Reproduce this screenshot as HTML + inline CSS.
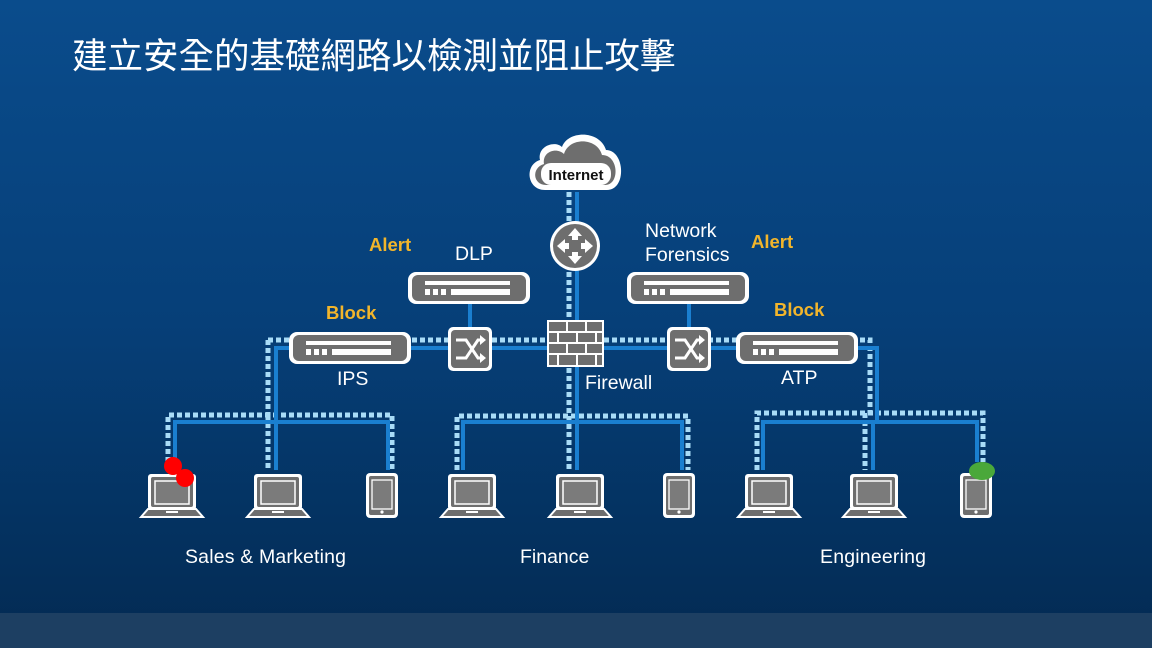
<!DOCTYPE html>
<html><head><meta charset="utf-8"><style>
html,body{margin:0;padding:0;width:1152px;height:648px;overflow:hidden}
svg{display:block}
text{font-family:"Liberation Sans","Noto Sans CJK TC",sans-serif}
</style></head><body>
<svg width="1152" height="648" viewBox="0 0 1152 648" xmlns="http://www.w3.org/2000/svg">
<defs>
<linearGradient id="bg" x1="0" y1="0" x2="0" y2="1">
<stop offset="0" stop-color="#0a4c8c"/><stop offset="0.5" stop-color="#063f78"/><stop offset="1" stop-color="#032a52"/>
</linearGradient>
<g id="laptop">
<rect x="-24" y="-22" width="48" height="36" rx="3" fill="#fff"/>
<rect x="-21" y="-19" width="42" height="30" rx="2" fill="#6e6e6e"/>
<rect x="-17" y="-15" width="34" height="23" fill="#7b7b7b" stroke="#fff" stroke-width="1.5"/>
<path d="M-31 21 L-24 13 L24 13 L31 21 Z" fill="#6e6e6e" stroke="#fff" stroke-width="2"/>
<rect x="-6" y="15" width="12" height="2" fill="#fff"/>
</g>
<g id="tablet">
<rect x="-16" y="-22" width="32" height="45" rx="4" fill="#fff"/>
<rect x="-13" y="-19" width="26" height="39" rx="2" fill="#6e6e6e"/>
<rect x="-10" y="-15" width="20" height="29" fill="#7b7b7b" stroke="#fff" stroke-width="1.3"/>
<circle cx="0" cy="17" r="1.6" fill="#fff"/>
</g>
<g id="app">
<rect x="-61" y="-16" width="122" height="32" rx="8" fill="#fff"/>
<rect x="-57" y="-13" width="114" height="26" rx="6" fill="#6e6e6e"/>
<rect x="-44" y="-7" width="85" height="4" fill="#fff"/>
<rect x="-44" y="1" width="5" height="6" fill="#fff"/>
<rect x="-36" y="1" width="5" height="6" fill="#fff"/>
<rect x="-28" y="1" width="5" height="6" fill="#fff"/>
<rect x="-18" y="1" width="59" height="6" fill="#fff"/>
</g>
<g id="sw">
<rect x="-22" y="-22" width="44" height="44" rx="5" fill="#fff"/>
<rect x="-19" y="-19" width="38" height="38" rx="4" fill="#6e6e6e"/>
<path d="M-14 -9 L-4 -9 L8 9 L12 9 M-14 9 L-4 9 L8 -9 L12 -9" stroke="#fff" stroke-width="3" fill="none"/>
<path d="M10 -14 L16 -9 L10 -4 Z M10 4 L16 9 L10 14 Z" fill="#fff"/>
</g>
</defs>
<rect width="1152" height="648" fill="url(#bg)"/>
<rect y="613" width="1152" height="35" fill="#1d3f62"/>
<text x="72" y="68" font-size="35.5" fill="#fff">建立安全的基礎網路以檢測並阻止攻擊</text>

<g fill="none">
<g stroke="#a9dcf7" stroke-width="5" stroke-dasharray="5 3">
<path d="M569 192 V470"/>
<path d="M268 340 H870 V413"/>
<path d="M268 340 V415"/>
<path d="M168 470 V415 H392 V470"/>
<path d="M268 415 V470"/>
<path d="M457 470 V416 H688 V470"/>
<path d="M757 470 V413 H983 V462"/>
<path d="M865 413 V470"/>
</g>
<g stroke="#1a7fd0" stroke-width="4">
<path d="M577 192 V470"/>
<path d="M276 422 V348 H877 V422"/>
<path d="M175 470 V422 H388 V470"/>
<path d="M463 470 V422 H682 V470"/>
<path d="M763 470 V422 H977 V462"/>
<path d="M873 422 V470"/>
<path d="M276 422 V470"/>
<path d="M470 302 V330"/>
<path d="M689 302 V330"/>
</g>
</g>

<path d="M545 190 C527 190 524 165 540 160 C537 146 555 140 562 147 C568 130 600 130 606 150 C625 150 627 190 607 190 Z" fill="#fff"/>
<path d="M546 185 C533 185 531 168 544 164 C542 151 557 147 564 154 C569 137 597 137 602 155 C619 155 620 185 605 185 Z" fill="#6e6e6e"/>
<rect x="541" y="163" width="70" height="22" rx="10" fill="#fff"/>
<text x="576" y="180" font-size="15" font-weight="bold" fill="#111" text-anchor="middle">Internet</text>

<circle cx="575" cy="246" r="25" fill="#fff"/>
<circle cx="575" cy="246" r="22" fill="#6e6e6e"/>
<g fill="#fff"><path d="M575 228 L582 236 L568 236 Z"/><path d="M575 264 L582 256 L568 256 Z"/><path d="M557 246 L565 239 L565 253 Z"/><path d="M593 246 L585 239 L585 253 Z"/>
<rect x="572" y="235" width="6" height="5"/><rect x="572" y="252" width="6" height="5"/><rect x="564" y="243" width="5" height="6"/><rect x="581" y="243" width="5" height="6"/></g>

<use href="#app" x="469" y="288"/>
<use href="#app" x="688" y="288"/>
<use href="#app" x="350" y="348"/>
<use href="#app" x="797" y="348"/>
<use href="#sw" x="470" y="349"/>
<use href="#sw" x="689" y="349"/>

<rect x="547" y="320" width="57" height="47" fill="#fff"/>
<g fill="#6e6e6e">
<rect x="549" y="322" width="17" height="9"/><rect x="568" y="322" width="17" height="9"/><rect x="587" y="322" width="15" height="9"/>
<rect x="549" y="333" width="8" height="9"/><rect x="559" y="333" width="17" height="9"/><rect x="578" y="333" width="17" height="9"/><rect x="597" y="333" width="5" height="9"/>
<rect x="549" y="344" width="17" height="9"/><rect x="568" y="344" width="17" height="9"/><rect x="587" y="344" width="15" height="9"/>
<rect x="549" y="355" width="8" height="10"/><rect x="559" y="355" width="17" height="10"/><rect x="578" y="355" width="17" height="10"/><rect x="597" y="355" width="5" height="10"/>
</g>

<use href="#laptop" x="172" y="496"/>
<use href="#laptop" x="278" y="496"/>
<use href="#tablet" x="382" y="495"/>
<use href="#laptop" x="472" y="496"/>
<use href="#laptop" x="580" y="496"/>
<use href="#tablet" x="679" y="495"/>
<use href="#laptop" x="769" y="496"/>
<use href="#laptop" x="874" y="496"/>
<use href="#tablet" x="976" y="495"/>

<circle cx="173" cy="466" r="9" fill="#f00"/>
<circle cx="185" cy="478" r="9" fill="#f00"/>
<ellipse cx="982" cy="471" rx="13" ry="9" fill="#4aa83a"/>

<g font-size="19.5" fill="#fff">
<text x="455" y="260">DLP</text>
<text x="645" y="237">Network</text>
<text x="645" y="261">Forensics</text>
<text x="337" y="385">IPS</text>
<text x="585" y="389">Firewall</text>
<text x="781" y="384">ATP</text>
<text x="185" y="563" textLength="161">Sales &amp; Marketing</text>
<text x="520" y="563">Finance</text>
<text x="820" y="563" textLength="106">Engineering</text>
</g>
<g font-size="18.5" font-weight="bold" fill="#f2b52b">
<text x="369" y="251">Alert</text>
<text x="751" y="248">Alert</text>
<text x="326" y="319">Block</text>
<text x="774" y="316">Block</text>
</g>
</svg>
</body></html>
